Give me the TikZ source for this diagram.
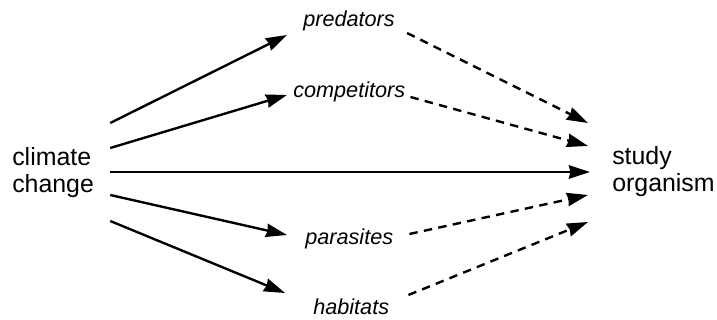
\documentclass[tikz,border=0pt]{standalone}
\usepackage{fontspec}
\setmainfont{Liberation Sans}
\usetikzlibrary{arrows.meta,calc}

\tikzset{
  bigword/.style={inner sep=0pt,align=left,font=\fontsize{17.7}{19.2}\selectfont},
  smallword/.style={inner sep=0pt,anchor=base west,font=\fontsize{15.4}{18}\selectfont\itshape},
  link/.style={draw,line width=1.7pt,-{Stealth[length=15pt,width=9.5pt,inset=1pt]}}
}

\begin{document}
\begin{tikzpicture}[x=0.025cm,y=-0.025cm]
            \useasboundingbox (0,0) rectangle (717,320);
            \begin{scope}[every node/.style={bigword,anchor=west}]
                \node (cc) at (12,173) {climate\\change};
                \node (so) at (612,172) {study\\organism};
            \end{scope}
            \begin{scope}[every node/.style={smallword}]
                \node (pred) at (303,27) {predators};
                \node (comp) at (293,98) {competitors};
                \node (para) at (305,245) {parasites};
                \node (hab) at (313,315) {habitats};
            \end{scope}
            \begin{scope}[every edge/.style={link}]
                \path
                    ($(cc.east)+(16,-50)$) edge ($(pred.base west)+(-16,8)$)
                    ($(cc.east)+(16,-25)$) edge ($(comp.base west)+(-6,-3)$)
                    ($(cc.east)+(16,-1)$) edge ($(so.west)+(-22,0)$)
                    ($(cc.east)+(16,22)$) edge ($(para.base west)+(-18,-10)$)
                    ($(cc.east)+(16,48)$) edge ($(hab.base west)+(-28,-22)$);
            \end{scope}
            \begin{scope}[every edge/.style={link,dash pattern=on 6pt off 4.5pt}]
                \path
                    ($(pred.base east)+(12,6)$) edge ($(so.west)+(-24,-49)$)
                    ($(comp.base east)+(5,-1)$) edge ($(so.west)+(-24,-26)$)
                    ($(para.base east)+(16,-11)$) edge ($(so.west)+(-24,23)$)
                    ($(hab.base east)+(19,-20)$) edge ($(so.west)+(-24,50)$);
            \end{scope}
\end{tikzpicture}
\end{document}
